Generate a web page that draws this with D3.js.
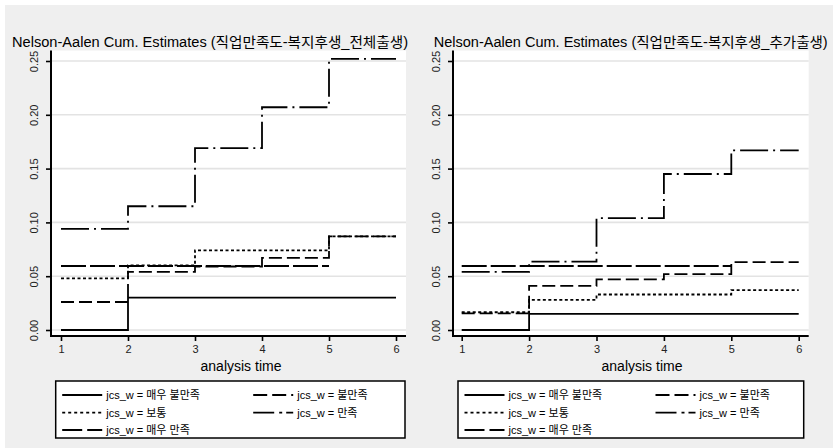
<!DOCTYPE html>
<html>
<head>
<meta charset="utf-8">
<script src="https://cdn.jsdelivr.net/npm/d3@7"></script>
<style>
  body { margin: 0; background: #ffffff; }
  svg text { font-family: "Liberation Sans", Arial, "Noto Sans CJK KR", sans-serif; fill: #000; }
</style>
</head>
<body>
<div id="chart"></div>
<script>
const times = [1, 2, 3, 4, 5, 6];
const yTicks = [0, 0.05, 0.10, 0.15, 0.20, 0.25];
const seriesNames = ['jcs_w = 매우 불만족', 'jcs_w = 불만족', 'jcs_w = 보통', 'jcs_w = 만족', 'jcs_w = 매우 만족'];
const titles = [
  'Nelson-Aalen Cum. Estimates (직업만족도-복지후생_전체출생)',
  'Nelson-Aalen Cum. Estimates (직업만족도-복지후생_추가출생)'
];

// left panel (전체출생)
const veryDisLeft = [0, 0.030, 0.030, 0.030, 0.030, 0.030];
const disLeft = [0.026, 0.054, 0.059, 0.067, 0.087, 0.087];
const neutralLeft = [0.048, 0.060, 0.074, 0.074, 0.087, 0.087];
const satLeft = [0.094, 0.115, 0.169, 0.207, 0.252, 0.252];
const verySatLeft = [0.0595, 0.0595, 0.0595, 0.0595, 0.0595, null];

// right panel (추가출생)
const veryDisRight = [0, 0.015, 0.015, 0.015, 0.015, 0.015];
const disRight = [0.0155, 0.041, 0.047, 0.052, 0.063, 0.063];
const neutralRight = [0.0165, 0.028, 0.033, 0.033, 0.037, 0.037];
const satRight = [0.054, 0.0635, 0.104, 0.145, 0.167, 0.167];
const verySatRight = [0.0595, 0.0595, 0.0595, 0.0595, 0.0595, null];

// line styles: plot dash and legend dash
const plotDash = [null, '13,5', '3,2.5', '28,5,2,5', '25,4'];
const legendDash = [null, '14,5', '3,3', '21,5,3,4', '20,5'];

const W = 833, H = 448;
const svg = d3.select('#chart').append('svg')
  .attr('width', W)
  .attr('height', H);

svg.append('rect')
  .attr('x', 5).attr('y', 5)
  .attr('width', W - 5).attr('height', H - 5)
  .attr('fill', '#efefef');

function drawPanel(p) {
  const x = d3.scaleLinear().domain([1, 6]).range([p.x1, p.x6]);
  const y = d3.scaleLinear().domain([0, 0.25]).range([330, 61]);
  const top = 50.5, bottom = 336;

  svg.append('rect')
    .attr('x', p.left).attr('y', top)
    .attr('width', p.right - p.left).attr('height', bottom - top)
    .attr('fill', '#ffffff');

  // gridlines
  svg.selectAll(null).data(yTicks).enter().append('line')
    .attr('x1', p.left).attr('x2', p.right)
    .attr('y1', d => y(d)).attr('y2', d => y(d))
    .attr('stroke', '#e3e3e3')
    .attr('stroke-width', 1.6);

  // series
  p.series.forEach((vals, i) => {
    const pts = times.map((t, j) => [t, vals[j]]).filter(d => d[1] != null);
    const line = d3.line()
      .x(d => x(d[0]))
      .y(d => y(d[1]))
      .curve(d3.curveStepAfter);
    svg.append('path')
      .attr('d', line(pts))
      .attr('fill', 'none')
      .attr('stroke', '#000')
      .attr('stroke-width', 1.8)
      .attr('stroke-dasharray', plotDash[i]);
  });

  // axes
  const yAxis = d3.axisLeft(y).tickValues(yTicks).tickSize(5).tickFormat(d3.format('.2f'));
  const gy = svg.append('g').attr('transform', `translate(${p.left},0)`).call(yAxis);
  gy.select('.domain').remove();
  gy.selectAll('.tick line').attr('stroke', '#000').attr('stroke-width', 1.6);
  gy.selectAll('.tick text')
    .attr('x', 0).attr('dy', 0)
    .attr('transform', 'translate(-16,0) rotate(-90)')
    .attr('text-anchor', 'middle')
    .attr('dominant-baseline', 'middle')
    .style('font-size', '11px')
    .style('fill', '#222');

  const xAxis = d3.axisBottom(x).tickValues(times).tickSize(5).tickFormat(d3.format('d'));
  const gx = svg.append('g').attr('transform', `translate(0,${bottom})`).call(xAxis);
  gx.select('.domain').remove();
  gx.selectAll('.tick line').attr('stroke', '#000').attr('stroke-width', 1.6);
  gx.selectAll('.tick text')
    .attr('y', 9)
    .style('font-size', '11px')
    .style('fill', '#222');

  svg.append('line')
    .attr('x1', p.left).attr('x2', p.left)
    .attr('y1', top).attr('y2', bottom)
    .attr('stroke', '#000').attr('stroke-width', 2);
  svg.append('line')
    .attr('x1', p.left - 1).attr('x2', p.right)
    .attr('y1', bottom).attr('y2', bottom)
    .attr('stroke', '#000').attr('stroke-width', 2);

  // title
  svg.append('text')
    .attr('x', p.titleX).attr('y', 47)
    .attr('textLength', p.titleW)
    .attr('lengthAdjust', 'spacingAndGlyphs')
    .style('font-size', '14px')
    .text(p.title);

  svg.append('text')
    .attr('x', p.axisTitleX).attr('y', 371)
    .attr('text-anchor', 'middle')
    .style('font-size', '14px')
    .text('analysis time');

  // legend
  svg.append('rect')
    .attr('x', p.legX).attr('y', 381)
    .attr('width', p.legW).attr('height', 57)
    .attr('fill', '#ffffff')
    .attr('stroke', '#000')
    .attr('stroke-width', 1.5);

  const rows = [395, 412.7, 430];
  seriesNames.forEach((name, i) => {
    const col = i % 2, row = Math.floor(i / 2);
    const lx = p.legX + 6.5 + col * p.colGap;
    const ly = rows[row];
    svg.append('line')
      .attr('x1', lx).attr('x2', lx + 40)
      .attr('y1', ly).attr('y2', ly)
      .attr('stroke', '#000')
      .attr('stroke-width', 1.8)
      .attr('stroke-dasharray', legendDash[i]);
    svg.append('text')
      .attr('x', lx + 44).attr('y', ly + 4)
      .style('font-size', '11px')
      .text(name);
  });
}

drawPanel({
  left: 51, right: 406, x1: 61, x6: 396,
  title: titles[0], titleX: 12, titleW: 396,
  axisTitleX: 241,
  legX: 55.7, legW: 349.3, colGap: 191,
  series: [veryDisLeft, disLeft, neutralLeft, satLeft, verySatLeft]
});

drawPanel({
  left: 453, right: 808.7, x1: 461.7, x6: 798.7,
  title: titles[1], titleX: 433.7, titleW: 394,
  axisTitleX: 642,
  legX: 458, legW: 345.7, colGap: 191,
  series: [veryDisRight, disRight, neutralRight, satRight, verySatRight]
});
</script>
</body>
</html>
